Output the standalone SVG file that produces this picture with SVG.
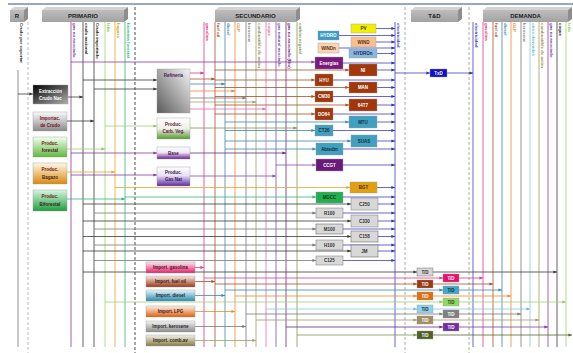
<svg xmlns="http://www.w3.org/2000/svg" width="573" height="353" viewBox="0 0 573 353">
<style>
text{font-family:"Liberation Sans",Arial,sans-serif}
.lb{font-size:4.4px;font-weight:bold}
.nt{font-size:4.5px;font-weight:bold;text-anchor:middle}
.hd{font-size:6px;font-weight:bold;text-anchor:middle;fill:#222}
.sep{stroke-width:0.8;stroke-dasharray:3,2;fill:none}
#conn line{stroke-width:0.8;fill:none}
.k{stroke:#3a3a3a}.gy{stroke:#7a7a7a}.pu{stroke:#8a3a9a}.lg{stroke:#a0d070}.or{stroke:#e0a830}.gr{stroke:#30b878}
.pk{stroke:#e03a8a}.br{stroke:#a85028}.tl{stroke:#3a8ab0}.og{stroke:#e88a30}.ol{stroke:#a0a070}.pk2{stroke:#e070b0}
.pu2{stroke:#8050b8}.pu3{stroke:#6a2a8a}.cv{stroke:#809850}.el{stroke:#4040c0}.lbl{stroke:#88c8e0}.kh{stroke:#a89860}.do{stroke:#586828}
.box{stroke:#999;stroke-width:0.4}
</style>
<defs>
<marker id="a-k" markerUnits="userSpaceOnUse" markerWidth="4" markerHeight="4" refX="3.6" refY="2" orient="auto"><path d="M0,0.4L3.6,2L0,3.6z" fill="#3a3a3a"/></marker>
<marker id="a-gy" markerUnits="userSpaceOnUse" markerWidth="4" markerHeight="4" refX="3.6" refY="2" orient="auto"><path d="M0,0.4L3.6,2L0,3.6z" fill="#7a7a7a"/></marker>
<marker id="a-pu" markerUnits="userSpaceOnUse" markerWidth="4" markerHeight="4" refX="3.6" refY="2" orient="auto"><path d="M0,0.4L3.6,2L0,3.6z" fill="#8a3a9a"/></marker>
<marker id="a-lg" markerUnits="userSpaceOnUse" markerWidth="4" markerHeight="4" refX="3.6" refY="2" orient="auto"><path d="M0,0.4L3.6,2L0,3.6z" fill="#90c860"/></marker>
<marker id="a-or" markerUnits="userSpaceOnUse" markerWidth="4" markerHeight="4" refX="3.6" refY="2" orient="auto"><path d="M0,0.4L3.6,2L0,3.6z" fill="#e0a830"/></marker>
<marker id="a-gr" markerUnits="userSpaceOnUse" markerWidth="4" markerHeight="4" refX="3.6" refY="2" orient="auto"><path d="M0,0.4L3.6,2L0,3.6z" fill="#30b878"/></marker>
<marker id="a-pk" markerUnits="userSpaceOnUse" markerWidth="4" markerHeight="4" refX="3.6" refY="2" orient="auto"><path d="M0,0.4L3.6,2L0,3.6z" fill="#e03a8a"/></marker>
<marker id="a-br" markerUnits="userSpaceOnUse" markerWidth="4" markerHeight="4" refX="3.6" refY="2" orient="auto"><path d="M0,0.4L3.6,2L0,3.6z" fill="#a85028"/></marker>
<marker id="a-tl" markerUnits="userSpaceOnUse" markerWidth="4" markerHeight="4" refX="3.6" refY="2" orient="auto"><path d="M0,0.4L3.6,2L0,3.6z" fill="#3a8ab0"/></marker>
<marker id="a-og" markerUnits="userSpaceOnUse" markerWidth="4" markerHeight="4" refX="3.6" refY="2" orient="auto"><path d="M0,0.4L3.6,2L0,3.6z" fill="#e88a30"/></marker>
<marker id="a-ol" markerUnits="userSpaceOnUse" markerWidth="4" markerHeight="4" refX="3.6" refY="2" orient="auto"><path d="M0,0.4L3.6,2L0,3.6z" fill="#a0a070"/></marker>
<marker id="a-pk2" markerUnits="userSpaceOnUse" markerWidth="4" markerHeight="4" refX="3.6" refY="2" orient="auto"><path d="M0,0.4L3.6,2L0,3.6z" fill="#e070b0"/></marker>
<marker id="a-pu2" markerUnits="userSpaceOnUse" markerWidth="4" markerHeight="4" refX="3.6" refY="2" orient="auto"><path d="M0,0.4L3.6,2L0,3.6z" fill="#8050b8"/></marker>
<marker id="a-pu3" markerUnits="userSpaceOnUse" markerWidth="4" markerHeight="4" refX="3.6" refY="2" orient="auto"><path d="M0,0.4L3.6,2L0,3.6z" fill="#6a2a8a"/></marker>
<marker id="a-cv" markerUnits="userSpaceOnUse" markerWidth="4" markerHeight="4" refX="3.6" refY="2" orient="auto"><path d="M0,0.4L3.6,2L0,3.6z" fill="#809850"/></marker>
<marker id="a-el" markerUnits="userSpaceOnUse" markerWidth="4" markerHeight="4" refX="3.6" refY="2" orient="auto"><path d="M0,0.4L3.6,2L0,3.6z" fill="#3030b0"/></marker>
<marker id="a-lb" markerUnits="userSpaceOnUse" markerWidth="4" markerHeight="4" refX="3.6" refY="2" orient="auto"><path d="M0,0.4L3.6,2L0,3.6z" fill="#70b8d8"/></marker>
<marker id="a-kh" markerUnits="userSpaceOnUse" markerWidth="4" markerHeight="4" refX="3.6" refY="2" orient="auto"><path d="M0,0.4L3.6,2L0,3.6z" fill="#a89860"/></marker>
<marker id="a-do" markerUnits="userSpaceOnUse" markerWidth="4" markerHeight="4" refX="3.6" refY="2" orient="auto"><path d="M0,0.4L3.6,2L0,3.6z" fill="#586828"/></marker>
<linearGradient id="gHd" x1="0" y1="0" x2="0" y2="1"><stop offset="0" stop-color="#bdbdbd"/><stop offset="1" stop-color="#a2a2a2"/></linearGradient>
<linearGradient id="gExtr" x1="0" y1="0" x2="1" y2="1"><stop offset="0" stop-color="#000"/><stop offset="1" stop-color="#b0b0b0"/></linearGradient>
<linearGradient id="gImp" x1="0" y1="0" x2="0" y2="1"><stop offset="0" stop-color="#fafafa"/><stop offset="1" stop-color="#8a8a8a"/></linearGradient>
<linearGradient id="gFor" x1="0" y1="0" x2="0" y2="1"><stop offset="0" stop-color="#f4fff0"/><stop offset="1" stop-color="#60b840"/></linearGradient>
<linearGradient id="gBag" x1="0" y1="0" x2="0" y2="1"><stop offset="0" stop-color="#fff8e8"/><stop offset="1" stop-color="#d88a10"/></linearGradient>
<linearGradient id="gBio" x1="0" y1="0" x2="0" y2="1"><stop offset="0" stop-color="#d8f4e0"/><stop offset="1" stop-color="#20a040"/></linearGradient>
<linearGradient id="gRef" x1="1" y1="0" x2="0" y2="1"><stop offset="0" stop-color="#f4f4f4"/><stop offset="1" stop-color="#5a5a5a"/></linearGradient>
<linearGradient id="gCarb" x1="0" y1="0" x2="0" y2="1"><stop offset="0" stop-color="#fff"/><stop offset="0.5" stop-color="#f0f0e8"/><stop offset="1" stop-color="#5a9a30"/></linearGradient>
<linearGradient id="gBase" x1="0" y1="0" x2="0" y2="1"><stop offset="0" stop-color="#fff"/><stop offset="0.45" stop-color="#f0e8f8"/><stop offset="1" stop-color="#6a2090"/></linearGradient>
<linearGradient id="gGas" x1="0" y1="0" x2="0" y2="1"><stop offset="0" stop-color="#fff"/><stop offset="0.45" stop-color="#e8e0f4"/><stop offset="1" stop-color="#5a28a8"/></linearGradient>
<linearGradient id="gIpk" x1="0" y1="0" x2="0" y2="1"><stop offset="0" stop-color="#fde8f0"/><stop offset="1" stop-color="#e8206a"/></linearGradient>
<linearGradient id="gIbr" x1="0" y1="0" x2="0" y2="1"><stop offset="0" stop-color="#f8e8e0"/><stop offset="1" stop-color="#9a3a18"/></linearGradient>
<linearGradient id="gItl" x1="0" y1="0" x2="0" y2="1"><stop offset="0" stop-color="#e8f4f8"/><stop offset="1" stop-color="#2a8ab0"/></linearGradient>
<linearGradient id="gIog" x1="0" y1="0" x2="0" y2="1"><stop offset="0" stop-color="#fdf0e4"/><stop offset="1" stop-color="#e06010"/></linearGradient>
<linearGradient id="gIgy" x1="0" y1="0" x2="0" y2="1"><stop offset="0" stop-color="#f4f4f4"/><stop offset="1" stop-color="#8a8a8a"/></linearGradient>
<linearGradient id="gIol" x1="0" y1="0" x2="0" y2="1"><stop offset="0" stop-color="#f4f2e8"/><stop offset="1" stop-color="#8a7a48"/></linearGradient>
</defs>
<rect width="573" height="353" fill="#fff"/>
<line x1="8" y1="4" x2="573" y2="4" stroke="#9aa8bc" stroke-width="2"/>
<g id="headers">
<g id="h-r"><rect x="10" y="10" width="14" height="12" fill="url(#gHd)"/><polygon points="10,10 14,7 28,7 24,10" fill="#d4d4d4"/><polygon points="24,10 28,7 28,19 24,22" fill="#8e8e8e"/><text x="17" y="18" class="hd">R</text></g>
<g id="h-prim"><rect x="42" y="10" width="82" height="12" fill="url(#gHd)"/><polygon points="42,10 46,7 128,7 124,10" fill="#d4d4d4"/><polygon points="124,10 128,7 128,19 124,22" fill="#8e8e8e"/><text x="83" y="18" class="hd">PRIMARIO</text></g>
<g id="h-sec"><rect x="215" y="10" width="81" height="12" fill="url(#gHd)"/><polygon points="215,10 219,7 300,7 296,10" fill="#d4d4d4"/><polygon points="296,10 300,7 300,19 296,22" fill="#8e8e8e"/><text x="255.5" y="18" class="hd">SECUNDARIO</text></g>
<g id="h-td"><rect x="411" y="10" width="47" height="12" fill="url(#gHd)"/><polygon points="411,10 415,7 462,7 458,10" fill="#d4d4d4"/><polygon points="458,10 462,7 462,19 458,22" fill="#8e8e8e"/><text x="434.5" y="18" class="hd">T&amp;D</text></g>
<g id="h-dem"><rect x="483" y="10" width="85" height="12" fill="url(#gHd)"/><polygon points="483,10 487,7 572,7 568,10" fill="#d4d4d4"/><polygon points="568,10 572,7 572,19 568,22" fill="#8e8e8e"/><text x="525.5" y="18" class="hd">DEMANDA</text></g>
</g>
<g id="separators">
<line x1="28" y1="22" x2="28" y2="353" class="sep" stroke="#b0b0b0"/>
<line x1="135" y1="7" x2="135" y2="353" class="sep" stroke="#222"/>
<line x1="405" y1="7" x2="405" y2="353" class="sep" stroke="#999"/>
<line x1="469" y1="7" x2="469" y2="353" class="sep" stroke="#999"/>
</g>
<g id="labels">
<text class="lb" fill="#333" transform="translate(19.5,23) rotate(90)">Crudo por exportar</text>
<text class="lb" fill="#8a3a9a" transform="translate(72.5,23) rotate(90)">gas no asociado</text>
<text class="lb" fill="#222" transform="translate(84.5,23) rotate(90)">crudo nacional</text>
<text class="lb" fill="#222" transform="translate(95.5,23) rotate(90)">Crudo importado</text>
<text class="lb" fill="#80c050" transform="translate(106.5,23) rotate(90)">leña</text>
<text class="lb" fill="#d8a020" transform="translate(116.5,23) rotate(90)">bagazo</text>
<text class="lb" fill="#30b878" transform="translate(126.5,23) rotate(90)">biomasa forestal</text>
<text class="lb" fill="#e03a8a" transform="translate(205.5,23) rotate(90)">gasolina</text>
<text class="lb" fill="#a85028" transform="translate(216.5,23) rotate(90)">fuel oil</text>
<text class="lb" fill="#3a8ab0" transform="translate(226.5,23) rotate(90)">diesel</text>
<text class="lb" fill="#e88a30" transform="translate(236.5,23) rotate(90)">GLP</text>
<text class="lb" fill="#888" transform="translate(247.5,23) rotate(90)">kerosene</text>
<text class="lb" fill="#909060" transform="translate(257.5,23) rotate(90)">combustible de avión</text>
<text class="lb" fill="#e070b0" transform="translate(267.5,23) rotate(90)">coque</text>
<text class="lb" fill="#8050b8" transform="translate(277.5,23) rotate(90)">gas natural asociado</text>
<text class="lb" fill="#6a2a8a" transform="translate(287.5,23) rotate(90)">gas no asociado (Bio)</text>
<text class="lb" fill="#809850" transform="translate(298.5,23) rotate(90)">carbón vegetal</text>
<text class="lb" fill="#4040c0" transform="translate(396.5,23) rotate(90)">electricidad</text>
<text class="lb" fill="#4040c0" transform="translate(474.5,23) rotate(90)">electricidad</text>
<text class="lb" fill="#e03a8a" transform="translate(484.5,23) rotate(90)">gasolina</text>
<text class="lb" fill="#a85028" transform="translate(494.5,23) rotate(90)">fuel oil</text>
<text class="lb" fill="#3a8ab0" transform="translate(503.5,23) rotate(90)">diesel</text>
<text class="lb" fill="#e88a30" transform="translate(512.5,23) rotate(90)">GLP</text>
<text class="lb" fill="#888" transform="translate(522.5,23) rotate(90)">kerosene</text>
<text class="lb" fill="#70b8d8" transform="translate(531.5,23) rotate(90)">otros derivados</text>
<text class="lb" fill="#a09050" transform="translate(540.5,23) rotate(90)">combustible de avión</text>
<text class="lb" fill="#7a3aa8" transform="translate(549.5,23) rotate(90)">gas no asociado</text>
<text class="lb" fill="#222" transform="translate(558.5,23) rotate(90)">coque</text>
<text class="lb" fill="#90c860" transform="translate(567.5,23) rotate(90)">leña</text>
</g>
<g id="conn">
<!-- vertical buses -->
<line x1="18" y1="70" x2="18" y2="347" class="gy"/>
<line x1="71" y1="22" x2="71" y2="347" class="pu"/>
<line x1="83" y1="22" x2="83" y2="347" class="k"/>
<line x1="94" y1="22" x2="94" y2="347" class="k"/>
<line x1="105" y1="22" x2="105" y2="347" class="lg"/>
<line x1="115" y1="22" x2="115" y2="347" class="or"/>
<line x1="125" y1="22" x2="125" y2="347" class="gr"/>
<line x1="204" y1="22" x2="204" y2="347" class="pk"/>
<line x1="215" y1="22" x2="215" y2="347" class="br"/>
<line x1="225" y1="22" x2="225" y2="347" class="tl"/>
<line x1="235" y1="22" x2="235" y2="347" class="og"/>
<line x1="246" y1="22" x2="246" y2="347" class="gy"/>
<line x1="256" y1="22" x2="256" y2="347" class="ol"/>
<line x1="266" y1="22" x2="266" y2="347" class="pk2"/>
<line x1="276" y1="22" x2="276" y2="347" class="pu2"/>
<line x1="286" y1="22" x2="286" y2="347" class="pu3"/>
<line x1="297" y1="22" x2="297" y2="347" class="cv"/>
<line x1="395" y1="22" x2="395" y2="347" class="el"/>
<line x1="473" y1="22" x2="473" y2="347" class="el"/>
<line x1="483" y1="22" x2="483" y2="347" class="pk"/>
<line x1="493" y1="22" x2="493" y2="347" class="br"/>
<line x1="502" y1="22" x2="502" y2="347" class="tl"/>
<line x1="511" y1="22" x2="511" y2="347" class="og"/>
<line x1="521" y1="22" x2="521" y2="347" class="gy"/>
<line x1="530" y1="22" x2="530" y2="347" class="lbl"/>
<line x1="539" y1="22" x2="539" y2="347" class="kh"/>
<line x1="548" y1="22" x2="548" y2="347" class="pu"/>
<line x1="557" y1="22" x2="557" y2="347" class="k"/>
<line x1="566" y1="22" x2="566" y2="347" class="lg"/>
<!-- primary feeds -->
<line x1="18" y1="94" x2="33" y2="94" class="k" marker-end="url(#a-k)"/>
<line x1="68" y1="97" x2="83" y2="97" class="k" marker-end="url(#a-k)"/>
<line x1="67" y1="121" x2="94" y2="121" class="k" marker-end="url(#a-k)"/>
<line x1="67" y1="149" x2="105" y2="149" class="lg" marker-end="url(#a-lg)"/>
<line x1="67" y1="172" x2="115" y2="172" class="or" marker-end="url(#a-or)"/>
<line x1="67" y1="199" x2="125" y2="199" class="gr" marker-end="url(#a-gr)"/>
<!-- primary to transformation -->
<line x1="83" y1="80" x2="157" y2="80" class="k" marker-end="url(#a-k)"/>
<line x1="94" y1="89" x2="157" y2="89" class="k" marker-end="url(#a-k)"/>
<line x1="105" y1="126" x2="157" y2="126" class="lg" marker-end="url(#a-lg)"/>
<line x1="71" y1="153" x2="157" y2="153" class="pu" marker-end="url(#a-pu)"/>
<line x1="71" y1="175" x2="157" y2="175" class="pu" marker-end="url(#a-pu)"/>
<line x1="71" y1="62" x2="315" y2="62" class="pu" marker-end="url(#a-pu)"/>
<!-- refinery outputs -->
<line x1="190" y1="73" x2="204" y2="73" class="pk" marker-end="url(#a-pk)"/>
<line x1="190" y1="79" x2="215" y2="79" class="br" marker-end="url(#a-br)"/>
<line x1="190" y1="84" x2="225" y2="84" class="tl" marker-end="url(#a-tl)"/>
<line x1="190" y1="91" x2="235" y2="91" class="og" marker-end="url(#a-og)"/>
<line x1="190" y1="98" x2="246" y2="98" class="gy" marker-end="url(#a-gy)"/>
<line x1="190" y1="102" x2="256" y2="102" class="ol" marker-end="url(#a-ol)"/>
<line x1="190" y1="109" x2="266" y2="109" class="pk2" marker-end="url(#a-pk2)"/>
<line x1="190" y1="128" x2="297" y2="128" class="cv" marker-end="url(#a-cv)"/>
<line x1="190" y1="153" x2="286" y2="153" class="pu3" marker-end="url(#a-pu3)"/>
<line x1="190" y1="176" x2="276" y2="176" class="pu2" marker-end="url(#a-pu2)"/>
<!-- imports -->
<line x1="195" y1="267.5" x2="204" y2="267.5" class="pk" marker-end="url(#a-pk)"/>
<line x1="195" y1="281.5" x2="215" y2="281.5" class="br" marker-end="url(#a-br)"/>
<line x1="195" y1="295.5" x2="225" y2="295.5" class="tl" marker-end="url(#a-tl)"/>
<line x1="195" y1="311.5" x2="235" y2="311.5" class="og" marker-end="url(#a-og)"/>
<line x1="195" y1="326.5" x2="246" y2="326.5" class="gy" marker-end="url(#a-gy)"/>
<line x1="195" y1="340.5" x2="256" y2="340.5" class="ol" marker-end="url(#a-ol)"/>
<!-- inputs to power plants -->
<line x1="215" y1="70" x2="349" y2="70" class="br" marker-end="url(#a-br)"/>
<line x1="215" y1="80" x2="315" y2="80" class="br" marker-end="url(#a-br)"/>
<line x1="215" y1="87.5" x2="349" y2="87.5" class="br" marker-end="url(#a-br)"/>
<line x1="215" y1="96.5" x2="315" y2="96.5" class="br" marker-end="url(#a-br)"/>
<line x1="215" y1="105" x2="349" y2="105" class="br" marker-end="url(#a-br)"/>
<line x1="215" y1="114" x2="315" y2="114" class="br" marker-end="url(#a-br)"/>
<line x1="225" y1="122" x2="349" y2="122" class="tl" marker-end="url(#a-tl)"/>
<line x1="225" y1="130.5" x2="315" y2="130.5" class="tl" marker-end="url(#a-tl)"/>
<line x1="225" y1="141" x2="351" y2="141" class="tl" marker-end="url(#a-tl)"/>
<line x1="225" y1="149" x2="316" y2="149" class="tl" marker-end="url(#a-tl)"/>
<line x1="276" y1="165" x2="316" y2="165" class="pu2" marker-end="url(#a-pu2)"/>
<line x1="115" y1="187.5" x2="350" y2="187.5" class="or" marker-end="url(#a-or)"/>
<line x1="125" y1="197" x2="316" y2="197" class="gr" marker-end="url(#a-gr)"/>
<line x1="83" y1="204" x2="351" y2="204" class="k" marker-end="url(#a-k)"/>
<line x1="94" y1="213" x2="316" y2="213" class="gy" marker-end="url(#a-gy)"/>
<line x1="83" y1="221" x2="351" y2="221" class="k" marker-end="url(#a-k)"/>
<line x1="94" y1="229" x2="316" y2="229" class="gy" marker-end="url(#a-gy)"/>
<line x1="83" y1="236.5" x2="351" y2="236.5" class="k" marker-end="url(#a-k)"/>
<line x1="94" y1="245" x2="316" y2="245" class="gy" marker-end="url(#a-gy)"/>
<line x1="83" y1="251" x2="351" y2="251" class="k" marker-end="url(#a-k)"/>
<line x1="94" y1="260.5" x2="316" y2="260.5" class="gy" marker-end="url(#a-gy)"/>
<!-- plant outputs to electricity bus -->
<line x1="376" y1="28.5" x2="395" y2="28.5" class="el" marker-end="url(#a-el)"/>
<line x1="339" y1="35.5" x2="395" y2="35.5" class="el" marker-end="url(#a-el)"/>
<line x1="376" y1="42" x2="395" y2="42" class="el" marker-end="url(#a-el)"/>
<line x1="339" y1="48" x2="395" y2="48" class="el" marker-end="url(#a-el)"/>
<line x1="377" y1="53.5" x2="395" y2="53.5" class="el" marker-end="url(#a-el)"/>
<line x1="343" y1="63" x2="395" y2="63" class="el" marker-end="url(#a-el)"/>
<line x1="377" y1="70" x2="395" y2="70" class="el" marker-end="url(#a-el)"/>
<line x1="333" y1="80" x2="395" y2="80" class="el" marker-end="url(#a-el)"/>
<line x1="377" y1="87.5" x2="395" y2="87.5" class="el" marker-end="url(#a-el)"/>
<line x1="333" y1="96.5" x2="395" y2="96.5" class="el" marker-end="url(#a-el)"/>
<line x1="377" y1="105" x2="395" y2="105" class="el" marker-end="url(#a-el)"/>
<line x1="333" y1="114" x2="395" y2="114" class="el" marker-end="url(#a-el)"/>
<line x1="377" y1="122" x2="395" y2="122" class="el" marker-end="url(#a-el)"/>
<line x1="333" y1="130.5" x2="395" y2="130.5" class="el" marker-end="url(#a-el)"/>
<line x1="377" y1="141" x2="395" y2="141" class="el" marker-end="url(#a-el)"/>
<line x1="343" y1="149" x2="395" y2="149" class="el" marker-end="url(#a-el)"/>
<line x1="343" y1="165" x2="395" y2="165" class="el" marker-end="url(#a-el)"/>
<line x1="377" y1="187.5" x2="395" y2="187.5" class="el" marker-end="url(#a-el)"/>
<line x1="343" y1="197" x2="395" y2="197" class="el" marker-end="url(#a-el)"/>
<line x1="378" y1="204" x2="395" y2="204" class="el" marker-end="url(#a-el)"/>
<line x1="343" y1="213" x2="395" y2="213" class="el" marker-end="url(#a-el)"/>
<line x1="378" y1="221" x2="395" y2="221" class="el" marker-end="url(#a-el)"/>
<line x1="343" y1="229" x2="395" y2="229" class="el" marker-end="url(#a-el)"/>
<line x1="378" y1="236.5" x2="395" y2="236.5" class="el" marker-end="url(#a-el)"/>
<line x1="343" y1="245" x2="395" y2="245" class="el" marker-end="url(#a-el)"/>
<line x1="378" y1="251" x2="395" y2="251" class="el" marker-end="url(#a-el)"/>
<line x1="343" y1="260.5" x2="395" y2="260.5" class="el" marker-end="url(#a-el)"/>
<!-- electricity transmission -->
<line x1="395" y1="73" x2="430" y2="73" class="el" marker-end="url(#a-el)"/>
<line x1="447" y1="73" x2="473" y2="73" class="el" marker-end="url(#a-el)"/>
<!-- inputs to T/D -->
<line x1="83" y1="272" x2="417" y2="272" class="k" marker-end="url(#a-k)"/>
<line x1="204" y1="278" x2="443" y2="278" class="pk" marker-end="url(#a-pk)"/>
<line x1="215" y1="284" x2="417" y2="284" class="br" marker-end="url(#a-br)"/>
<line x1="225" y1="290" x2="443" y2="290" class="tl" marker-end="url(#a-tl)"/>
<line x1="235" y1="296" x2="417" y2="296" class="og" marker-end="url(#a-og)"/>
<line x1="105" y1="302" x2="443" y2="302" class="lg" marker-end="url(#a-lg)"/>
<line x1="266" y1="309" x2="417" y2="309" class="lbl" marker-end="url(#a-lb)"/>
<line x1="246" y1="314" x2="443" y2="314" class="gy" marker-end="url(#a-gy)"/>
<line x1="256" y1="320" x2="417" y2="320" class="kh" marker-end="url(#a-kh)"/>
<line x1="286" y1="327" x2="443" y2="327" class="pu3" marker-end="url(#a-pu3)"/>
<line x1="297" y1="335" x2="417" y2="335" class="cv" marker-end="url(#a-cv)"/>
<!-- T/D outputs -->
<line x1="433" y1="272" x2="557" y2="272" class="k" marker-end="url(#a-k)"/>
<line x1="459" y1="278" x2="483" y2="278" class="pk" marker-end="url(#a-pk)"/>
<line x1="433" y1="284" x2="493" y2="284" class="br" marker-end="url(#a-br)"/>
<line x1="459" y1="290" x2="502" y2="290" class="tl" marker-end="url(#a-tl)"/>
<line x1="433" y1="296" x2="511" y2="296" class="og" marker-end="url(#a-og)"/>
<line x1="459" y1="302" x2="566" y2="302" class="lg" marker-end="url(#a-lg)"/>
<line x1="433" y1="309" x2="530" y2="309" class="lbl" marker-end="url(#a-lb)"/>
<line x1="459" y1="314" x2="521" y2="314" class="gy" marker-end="url(#a-gy)"/>
<line x1="433" y1="320" x2="539" y2="320" class="kh" marker-end="url(#a-kh)"/>
<line x1="459" y1="327" x2="548" y2="327" class="pu" marker-end="url(#a-pu)"/>
<line x1="433" y1="335" x2="572" y2="335" class="do" marker-end="url(#a-do)"/>
</g>
<g id="nodes">
<g id="n-extr"><rect x="33" y="85" width="35" height="19" fill="url(#gExtr)" class="box"/><text x="50.5" y="92.5" class="nt" fill="#fff">Extracción</text><text x="50.5" y="99.5" class="nt" fill="#fff">Crudo Nac</text></g>
<g id="n-impc"><rect x="33" y="112" width="34" height="19" fill="url(#gImp)" class="box"/><text x="50" y="119.5" class="nt" fill="#7a1020">Importac.</text><text x="50" y="126.5" class="nt" fill="#7a1020">de Crudo</text></g>
<g id="n-forest"><rect x="33" y="137" width="34" height="20" fill="url(#gFor)" class="box"/><text x="50" y="144.5" class="nt" fill="#6a2020">Produc.</text><text x="50" y="152" class="nt" fill="#4a2020">forestal</text></g>
<g id="n-bagazo"><rect x="33" y="163" width="34" height="21" fill="url(#gBag)" class="box"/><text x="50" y="171" class="nt" fill="#6a2020">Produc.</text><text x="50" y="178.5" class="nt" fill="#4a2020">Bagazo</text></g>
<g id="n-biofor"><rect x="33" y="190" width="34" height="21" fill="url(#gBio)" class="box"/><text x="50" y="198" class="nt" fill="#6a2020">Produc.</text><text x="50" y="205.5" class="nt" fill="#3a2020">Biforestal</text></g>
<g id="n-ref"><rect x="157" y="69" width="33" height="44" fill="url(#gRef)" class="box"/><text x="173.5" y="77" class="nt" fill="#4a1a4a">Refinería</text></g>
<g id="n-carb"><rect x="157" y="118" width="33" height="21" fill="url(#gCarb)" class="box"/><text x="173.5" y="126" class="nt" fill="#602040">Produc.</text><text x="173.5" y="133" class="nt" fill="#602040">Carb. Veg.</text></g>
<g id="n-base"><rect x="157" y="147" width="33" height="12" fill="url(#gBase)" class="box"/><text x="173.5" y="154.5" class="nt" fill="#3a1a4a">Base</text></g>
<g id="n-gasnat"><rect x="157" y="167" width="33" height="19" fill="url(#gGas)" class="box"/><text x="173.5" y="174" class="nt" fill="#3a1a4a">Produc.</text><text x="173.5" y="181" class="nt" fill="#3a1a4a">Gas Nat</text></g>
<g id="n-igas"><rect x="146" y="262" width="49" height="11" fill="url(#gIpk)" class="box"/><text x="170.5" y="269.2" class="nt" fill="#3a1a1a">Import. gasolina</text></g>
<g id="n-ifo"><rect x="146" y="276" width="49" height="11" fill="url(#gIbr)" class="box"/><text x="170.5" y="283.2" class="nt" fill="#3a1a1a">Import. fuel oil</text></g>
<g id="n-idie"><rect x="146" y="290" width="49" height="11" fill="url(#gItl)" class="box"/><text x="170.5" y="297.2" class="nt" fill="#1a2a3a">Import. diesel</text></g>
<g id="n-ilpg"><rect x="146" y="306" width="49" height="11" fill="url(#gIog)" class="box"/><text x="170.5" y="313.2" class="nt" fill="#3a1a1a">Import. LPG</text></g>
<g id="n-iker"><rect x="146" y="321" width="49" height="11" fill="url(#gIgy)" class="box"/><text x="170.5" y="328.2" class="nt" fill="#2a2a2a">Import. kerosene</text></g>
<g id="n-icav"><rect x="146" y="335" width="49" height="11" fill="url(#gIol)" class="box"/><text x="170.5" y="342.2" class="nt" fill="#2a2a1a">Import. comb.av</text></g>
<g id="n-pv"><rect x="351" y="24" width="25" height="9" fill="#f0f000" class="box"/><text x="363.5" y="30.2" class="nt" fill="#333">PV</text></g>
<g id="n-hydro"><rect x="318" y="31" width="21" height="9" fill="#3a9ac8" class="box"/><text x="328.5" y="37.2" class="nt" fill="#fff">HYDRO</text></g>
<g id="n-wind"><rect x="351" y="37" width="25" height="10" fill="#f8c090" class="box"/><text x="363.5" y="43.6" class="nt" fill="#5a3010">WIND</text></g>
<g id="n-windn"><rect x="318" y="43" width="21" height="10" fill="#fad4b4" class="box"/><text x="328.5" y="49.6" class="nt" fill="#5a3010">WINDn</text></g>
<g id="n-hydron"><rect x="349" y="49" width="28" height="9" fill="#8ab8e0" class="box"/><text x="363" y="55.2" class="nt" fill="#1a2a4a">HYDROn</text></g>
<g id="n-energ"><rect x="315" y="57" width="28" height="12" fill="#7a1a7a" class="box"/><text x="329" y="64.6" class="nt" fill="#fff">Energías</text></g>
<g id="n-ni"><rect x="349" y="64" width="28" height="12" fill="#a0380c" class="box"/><text x="363" y="71.6" class="nt" fill="#fff">NI</text></g>
<g id="n-hyu"><rect x="315" y="74" width="18" height="12" fill="#a0380c" class="box"/><text x="324" y="81.6" class="nt" fill="#fff">HYU</text></g>
<g id="n-man"><rect x="349" y="82" width="28" height="11" fill="#a0380c" class="box"/><text x="363" y="89.2" class="nt" fill="#fff">MAN</text></g>
<g id="n-cm30"><rect x="315" y="91" width="18" height="11" fill="#a0380c" class="box"/><text x="324" y="98.2" class="nt" fill="#fff">CM30</text></g>
<g id="n-64t7"><rect x="349" y="99" width="28" height="12" fill="#a0380c" class="box"/><text x="363" y="106.6" class="nt" fill="#fff">64T7</text></g>
<g id="n-do64"><rect x="315" y="108" width="18" height="12" fill="#a0380c" class="box"/><text x="324" y="115.6" class="nt" fill="#fff">DO64</text></g>
<g id="n-mtu"><rect x="349" y="116" width="28" height="12" fill="#40a0c0" class="box"/><text x="363" y="123.6" class="nt" fill="#1a2a3a">MTU</text></g>
<g id="n-ct20"><rect x="315" y="125" width="18" height="11" fill="#40a0c0" class="box"/><text x="324" y="132.2" class="nt" fill="#1a2a3a">CT20</text></g>
<g id="n-suas"><rect x="351" y="135" width="26" height="12" fill="#40a0c0" class="box"/><text x="364" y="142.6" class="nt" fill="#1a2a3a">SUAS</text></g>
<g id="n-abt"><rect x="316" y="143" width="27" height="12" fill="#40a0c0" class="box"/><text x="329.5" y="150.6" class="nt" fill="#1a2a3a">Abtedm</text></g>
<g id="n-ccgt"><rect x="316" y="159" width="27" height="12" fill="#6a1a7a" class="box"/><text x="329.5" y="166.6" class="nt" fill="#fff">CCGT</text></g>
<g id="n-bgt"><rect x="350" y="182" width="27" height="11" fill="#e0a010" class="box"/><text x="363.5" y="189.2" class="nt" fill="#4a2a00">BGT</text></g>
<g id="n-mgcc"><rect x="316" y="192" width="27" height="11" fill="#20b050" class="box"/><text x="329.5" y="199.2" class="nt" fill="#0a3a1a">MGCC</text></g>
<g id="n-c250"><rect x="351" y="198" width="27" height="12" fill="#d8d8d8" stroke="#777" stroke-width="0.5"/><text x="364.5" y="205.6" class="nt" fill="#333">C250</text></g>
<g id="n-r100"><rect x="316" y="208" width="27" height="10" fill="#d8d8d8" stroke="#777" stroke-width="0.5"/><text x="329.5" y="214.6" class="nt" fill="#333">R100</text></g>
<g id="n-c330"><rect x="351" y="215" width="27" height="12" fill="#d8d8d8" stroke="#777" stroke-width="0.5"/><text x="364.5" y="222.6" class="nt" fill="#333">C330</text></g>
<g id="n-m100"><rect x="316" y="224" width="27" height="10" fill="#d8d8d8" stroke="#555" stroke-width="0.5"/><text x="329.5" y="230.6" class="nt" fill="#333">M100</text></g>
<g id="n-c158"><rect x="351" y="231" width="27" height="11" fill="#d8d8d8" stroke="#555" stroke-width="0.5"/><text x="364.5" y="238.2" class="nt" fill="#333">C158</text></g>
<g id="n-h100"><rect x="316" y="240" width="27" height="10" fill="#d8d8d8" stroke="#777" stroke-width="0.5"/><text x="329.5" y="246.6" class="nt" fill="#333">H100</text></g>
<g id="n-jm"><rect x="351" y="245" width="27" height="12" fill="#d8d8d8" stroke="#555" stroke-width="0.5"/><text x="364.5" y="252.6" class="nt" fill="#333">JM</text></g>
<g id="n-c125"><rect x="316" y="256" width="27" height="9" fill="#d8d8d8" stroke="#777" stroke-width="0.5"/><text x="329.5" y="262.2" class="nt" fill="#333">C125</text></g>
<g id="n-txd"><rect x="430" y="69" width="17" height="8" fill="#1010c8" class="box"/><text x="438.5" y="74.6" class="nt" fill="#fff">TxD</text></g>
<g id="n-td1"><rect x="417" y="268" width="16" height="8" fill="#d4d4d4" stroke="#777" stroke-width="0.5"/><text x="425" y="273.6" class="nt" fill="#333">T/D</text></g>
<g id="n-td2"><rect x="443" y="274" width="16" height="8" fill="#e8106a" class="box"/><text x="451" y="279.6" class="nt" fill="#fff">T/D</text></g>
<g id="n-td3"><rect x="417" y="280" width="16" height="8" fill="#9a3a10" class="box"/><text x="425" y="285.6" class="nt" fill="#fff">T/D</text></g>
<g id="n-td4"><rect x="443" y="286" width="16" height="8" fill="#40a8c8" class="box"/><text x="451" y="291.6" class="nt" fill="#1a2a3a">T/D</text></g>
<g id="n-td5"><rect x="417" y="292" width="16" height="8" fill="#e07010" class="box"/><text x="425" y="297.6" class="nt" fill="#fff">T/D</text></g>
<g id="n-td6"><rect x="443" y="298" width="16" height="8" fill="#90d860" class="box"/><text x="451" y="303.6" class="nt" fill="#2a3a1a">T/D</text></g>
<g id="n-td7"><rect x="417" y="305" width="16" height="8" fill="#90d0e8" class="box"/><text x="425" y="310.6" class="nt" fill="#1a2a3a">T/D</text></g>
<g id="n-td8"><rect x="443" y="310" width="16" height="8" fill="#808080" class="box"/><text x="451" y="315.6" class="nt" fill="#fff">T/D</text></g>
<g id="n-td9"><rect x="417" y="316" width="16" height="8" fill="#a09060" class="box"/><text x="425" y="321.6" class="nt" fill="#fff">T/D</text></g>
<g id="n-td10"><rect x="443" y="323" width="16" height="8" fill="#7030a0" class="box"/><text x="451" y="328.6" class="nt" fill="#fff">T/D</text></g>
<g id="n-td11"><rect x="417" y="331" width="16" height="8" fill="#506020" class="box"/><text x="425" y="336.6" class="nt" fill="#fff">T/D</text></g>
</g>
</svg>
